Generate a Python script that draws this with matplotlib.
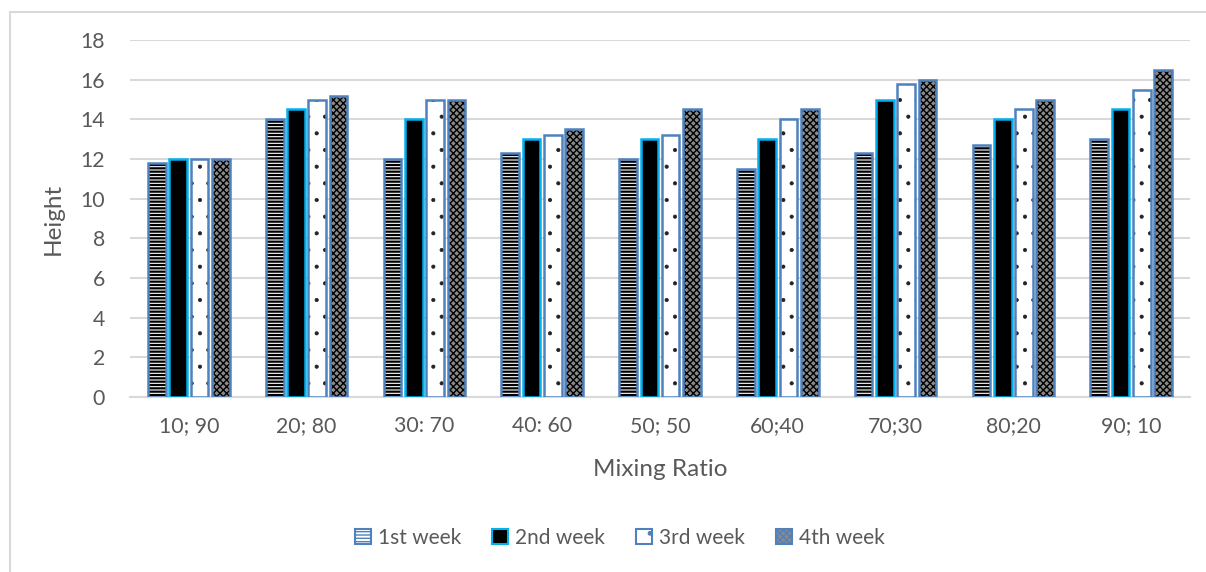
import matplotlib.pyplot as plt
from matplotlib.lines import Line2D
from matplotlib.patches import Patch
import numpy as np

plt.rcParams['font.family'] = ['Lato', 'DejaVu Sans']

ratios = ["10; 90", "20; 80", "30: 70", "40: 60", "50; 50", "60;40", "70;30", "80;20", "90; 10"]
week1 = [11.8, 14.0, 12.0, 12.3, 12.0, 11.5, 12.3, 12.7, 13.0]
week2 = [12.0, 14.5, 14.0, 13.0, 13.0, 13.0, 15.0, 14.0, 14.5]
week3 = [12.0, 15.0, 15.0, 13.2, 13.2, 14.0, 15.8, 14.5, 15.5]
week4 = [12.0, 15.2, 15.0, 13.5, 14.5, 14.5, 16.0, 15.0, 16.5]
weeks = ["1st week", "2nd week", "3rd week", "4th week"]

txt = "#595959"
blue = "#4F81BD"
cyan = "#00B0F0"

# face, hatch, hatch colour, outline, hatch linewidth
styles = [
    ("white", "-----", "black", blue, 1.6),
    ("black", None, "black", cyan, 1.0),
    ("white", ".", "#222222", blue, 0.5),
    ("#8a8a8a", "xxxxx", "black", blue, 1.0),
]

fig = plt.figure(figsize=(12.06, 5.72), dpi=100)
ax = fig.add_axes([130/1206, 1-397/572, 1060/1206, 357/572])

x = np.arange(len(ratios))
pitch = 0.181
w = 0.15
for i, vals in enumerate([week1, week2, week3, week4]):
    face, hatch, hcol, edge, hlw = styles[i]
    plt.rcParams['hatch.linewidth'] = hlw
    pos = x + (i - 1.5) * pitch
    ax.bar(pos, vals, w, color=face, hatch=hatch, edgecolor=hcol, linewidth=0, zorder=3)
    ax.bar(pos, vals, w, fill=False, edgecolor=edge, linewidth=1.8, zorder=4)

ax.set_ylim(0, 18)
ax.set_xlim(-0.5, len(ratios) - 0.5)
ax.set_yticks(range(0, 19, 2))
ax.set_xticks(x)
ax.set_xticklabels(ratios)
ax.tick_params(length=0, labelsize=15.3, colors=txt, pad=14)
ax.tick_params(axis='y', pad=18)
ax.grid(axis='y', color="#D9D9D9", linewidth=1.5, zorder=0)
for s in ["top", "right", "left"]:
    ax.spines[s].set_visible(False)
ax.spines["bottom"].set_color("#D9D9D9")
ax.spines["bottom"].set_linewidth(1.5)
ax.spines["bottom"].set_zorder(2)

ax.set_xlabel("Mixing Ratio", fontsize=17.5, color=txt, labelpad=16)
ax.set_ylabel("Height", fontsize=17.5, color=txt, labelpad=12)

handles = []
for face, hatch, hcol, edge, hlw in styles:
    plt.rcParams['hatch.linewidth'] = hlw
    handles.append(Patch(facecolor=face, hatch=hatch, edgecolor=edge, linewidth=1.5))
leg = fig.legend(handles, weeks, loc="center", bbox_to_anchor=(620/1206, 1-538/572),
                 ncol=4, frameon=False, fontsize=15, handlelength=0.75, handleheight=0.75,
                 handletextpad=0.35, columnspacing=1.5)
for t in leg.get_texts():
    t.set_color(txt)

# chart area border (left and top visible)
fig.add_artist(Line2D([10/1206, 10/1206], [0, 1-12/572], color="#D9D9D9", lw=1.5))
fig.add_artist(Line2D([10/1206, 1], [1-12/572, 1-12/572], color="#D9D9D9", lw=1.5))

fig.savefig("out.png", dpi=100)
